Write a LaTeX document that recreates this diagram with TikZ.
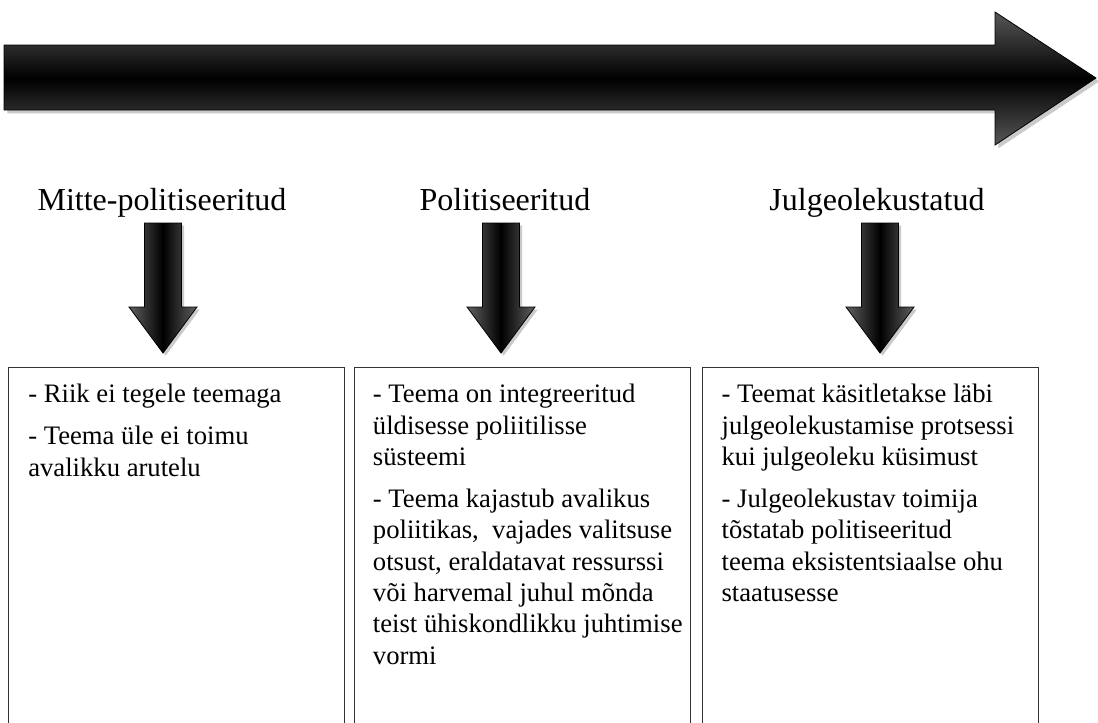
\documentclass[tikz,border=0pt]{standalone}
\usepackage{fontspec}
\setmainfont{Liberation Serif}
\usetikzlibrary{positioning, shadows}

\begin{document}
\begin{tikzpicture}[x=0.75pt, y=-0.75pt,
      hdr/.style={font=\fontsize{24}{28}\selectfont, inner sep=0pt, anchor=base},
      colbox/.style={draw=black!80, line width=0.8pt, minimum width=252pt,
                     minimum height=290pt, anchor=north west, inner sep=0pt},
      boxtxt/.style={font=\fontsize{20}{23.5}\selectfont, align=left, inner sep=0pt},
      bigarr/.style={draw=black, line width=0.6pt, top color=black!66,
                     bottom color=black!66, middle color=black,
                     drop shadow={shadow xshift=2.5pt, shadow yshift=-2.5pt, fill=black!35, opacity=.6}},
      downarr/.style={draw=black, line width=0.6pt, left color=black!62,
                     right color=black!62, middle color=black,
                     drop shadow={shadow xshift=2pt, shadow yshift=-2pt, fill=black!35, opacity=.6}}]
    \useasboundingbox (0,0) rectangle (1098,722);
    \clip (0,0) rectangle (1098,722);
    % time line
    \path[bigarr] (4,45) -- (995,45) -- (995,12) -- (1096,78) -- (995,145)
                  -- (995,110) -- (4,110) -- cycle;
    % stage titles
    \node[hdr] (h1) at (162,210) {Mitte-politiseeritud};
    \node[hdr] (h2) at (505,210) {Politiseeritud};
    \node[hdr] (h3) at (877,210) {Julgeolekustatud};
    % down arrows
    \foreach \cx in {163,501,880}
      \path[downarr] (\cx-18.5,223) -- (\cx+18.5,223) -- (\cx+18.5,307) -- (\cx+34,307)
                     -- (\cx,353) -- (\cx-34,307) -- (\cx-18.5,307) -- cycle;
    % boxes
    \node[colbox] (b1) at (8,367)   {};
    \node[colbox] (b2) at (354,367) {};
    \node[colbox] (b3) at (702,367) {};
    \node[boxtxt, below right=12.75pt and 15pt of b1.north west] (t1)
      {- Riik ei tegele teemaga\\[8pt]
       - Teema üle ei toimu\\avalikku arutelu};
    \node[boxtxt, below right=12.75pt and 14pt of b2.north west] (t2)
      {- Teema on integreeritud\\üldisesse poliitilisse\\süsteemi\\[8pt]
       - Teema kajastub avalikus\\poliitikas,\ \ vajades valitsuse\\otsust, eraldatavat ressurssi\\
       või harvemal juhul mõnda\\teist ühiskondlikku juhtimise\\vormi};
    \node[boxtxt, below right=12.75pt and 14.5pt of b3.north west] (t3)
      {- Teemat käsitletakse läbi\\julgeolekustamise protsessi\\kui julgeoleku küsimust\\[8pt]
       - Julgeolekustav toimija\\tõstatab politiseeritud\\teema eksistentsiaalse ohu\\staatusesse};
\end{tikzpicture}
\end{document}
